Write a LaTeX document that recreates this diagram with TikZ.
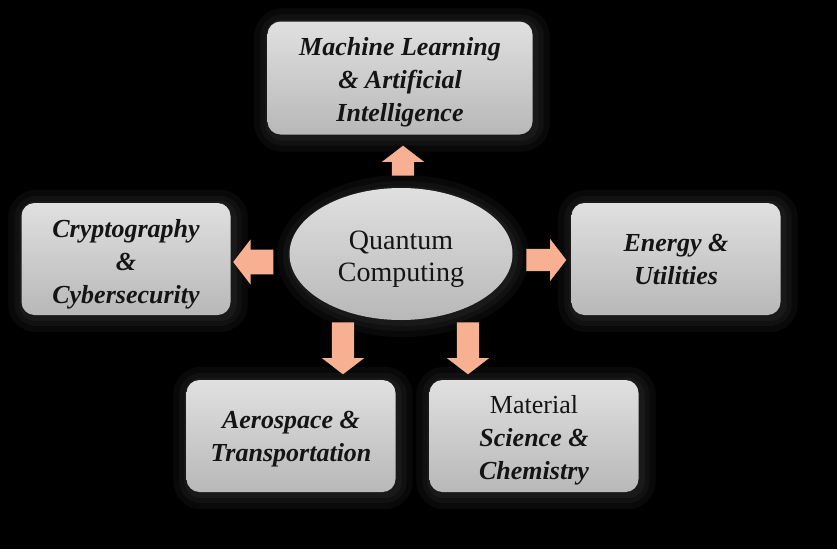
\documentclass[tikz,border=0pt]{standalone}
\usepackage{fontspec}
\setmainfont{Liberation Serif}
\usetikzlibrary{shapes.geometric,shapes.arrows,positioning,calc}
\definecolor{BoxTop}{RGB}{224,224,224}
\definecolor{BoxBottom}{RGB}{184,184,184}
\definecolor{ArrowSalmon}{RGB}{248,176,146}
\definecolor{TextDark}{RGB}{20,20,20}
\pgfdeclarelayer{backdrop}
\pgfdeclarelayer{glowing}
\pgfsetlayers{backdrop,glowing,main}
% text block, set a little below the centre of its box
\newcommand\boxtext[2][4pt]{\raisebox{-#1}[\height][\depth]{\begin{tabular}{@{}c@{}}#2\end{tabular}}}

\begin{document}
\begin{tikzpicture}[x=1pt,y=-1pt,
  area/.style={rounded corners=13pt,minimum width=209pt,minimum height=112pt,
    top color=BoxTop,bottom color=BoxBottom,draw=none,text=TextDark,
    font=\fontsize{26}{33}\selectfont\bfseries\itshape},
  halo/.style={fill=white,fill opacity=0.035},
  blockarrow/.style={single arrow,fill=ArrowSalmon,draw=none,inner xsep=0pt,inner ysep=11pt,
    minimum width=42pt,single arrow head extend=10pt,single arrow tip angle=105},
  vblockarrow/.style={blockarrow,inner xsep=11pt,inner ysep=0pt}]
  % background
  \begin{pgfonlayer}{backdrop}
    \fill[black] (0,0) rectangle (837,549);
  \end{pgfonlayer}
  \useasboundingbox (0,0) rectangle (837,549);

  \node[ellipse,minimum width=223pt,minimum height=132pt,top color=BoxTop,bottom color=BoxBottom,
    text=TextDark,font=\fontsize{28}{32}\selectfont] (qc) at (401,254) {\boxtext[5pt]{Quantum\\Computing}};

  \node[area,minimum width=265pt,minimum height=113pt] (ml) at (400,78) {\boxtext{Machine Learning\\\& Artificial\\Intelligence}};
  \node[area] (crypto) at (126,259) {\boxtext[5pt]{Cryptography\\\&\\Cybersecurity}};
  \node[area] (energy) at (676,259) {\boxtext[2pt]{Energy \&\\Utilities}};
  \node[area] (aero) at (291,436) {\boxtext[2pt]{Aerospace \&\\Transportation}};
  \node[area] (matsci) at (534,436) {\boxtext{{\normalfont Material}\\Science \&\\Chemistry}};

  % soft halo behind the shapes
  \begin{pgfonlayer}{glowing}
    \foreach \d in {4,9,15} {
      \foreach \n in {ml,crypto,energy,aero,matsci}
        \fill[halo,rounded corners=13pt+\d pt] ($(\n.north west)+(-\d+2,-\d+2)$) rectangle ($(\n.south east)+(\d+2,\d+2)$);
      \fill[halo] ($(qc.center)+(2,2)$) ellipse [x radius=111+\d, y radius=66+\d];
    }
  \end{pgfonlayer}

  % arrows out of the centre
  \node[vblockarrow,minimum height=30pt,shape border rotate=90] (arrup) at (403,165) {};
  \node[blockarrow,minimum height=40pt,minimum width=45pt,inner ysep=12pt,shape border rotate=180] (arrleft) at (258,262) {};
  \node[blockarrow,minimum height=40pt,shape border rotate=0] (arrright) at (542,260) {};
  \node[vblockarrow,minimum height=52pt,shape border rotate=270] (arrdowna) at (343,344) {};
  \node[vblockarrow,minimum height=52pt,shape border rotate=270] (arrdownb) at (468,344) {};
\end{tikzpicture}
\end{document}
